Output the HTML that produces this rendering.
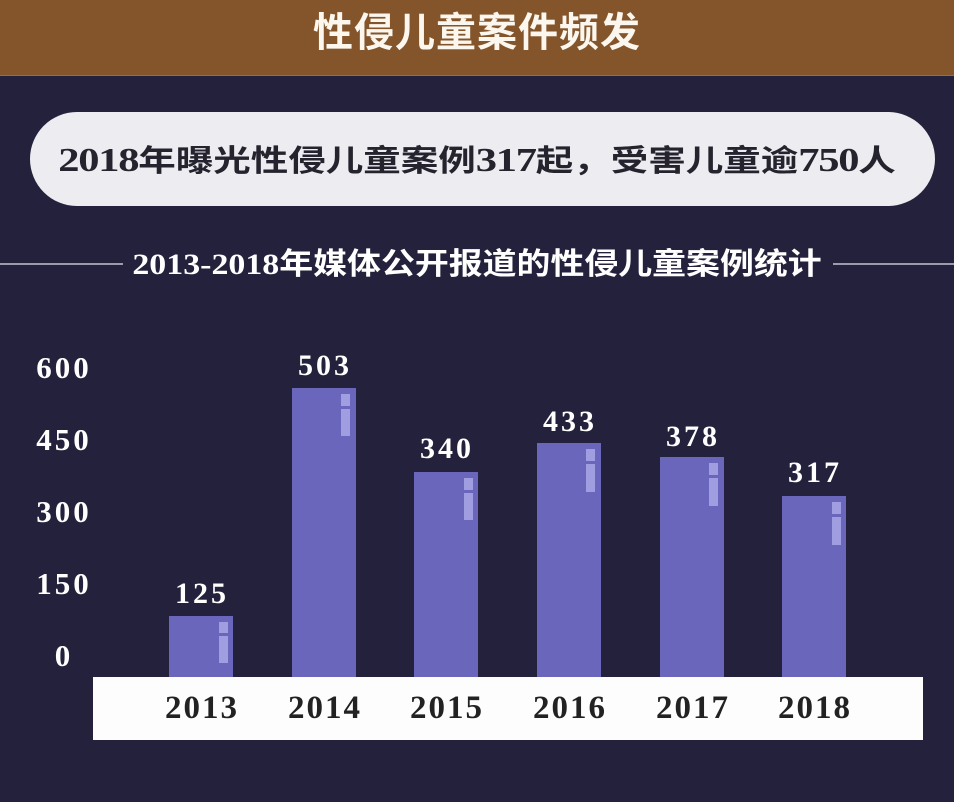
<!DOCTYPE html>
<html><head><meta charset="utf-8">
<style>
*{margin:0;padding:0;box-sizing:border-box}
html,body{width:954px;height:802px;overflow:hidden;background:#23213b}
body{position:relative;font-family:"Liberation Serif","Noto Sans CJK SC",serif}
.abs{position:absolute}
.head{left:0;top:0;width:954px;height:76px;background:#84552b;border-bottom:1px solid #9a6d45}
.title{left:0;top:11px;width:954px;text-align:center;font-family:"Liberation Sans","Noto Sans CJK SC",sans-serif;font-weight:bold;font-size:40px;line-height:44px;color:#fbf6ee;letter-spacing:1px}
.pill{left:30px;top:112px;width:905px;height:94px;border-radius:47px;background:#ececf1}
.pilltext{left:0;top:145px;width:954px;text-align:center;font-weight:bold;font-size:30px;line-height:32px;color:#24232e;white-space:nowrap}
.pilltext > span{display:inline-block;transform:scaleX(1.25);transform-origin:center}
.pilltext b{font-size:34px;letter-spacing:-1px;line-height:32px;font-weight:bold}
.sub{left:0;top:249px;width:954px;text-align:center;font-weight:bold;font-size:30px;line-height:32px;color:#fff;white-space:nowrap}
.sub span{display:inline-block;transform:scaleX(1.13);transform-origin:center}
.line{height:2px;background:#9c9bab;top:263px}
.yl{width:80px;left:24px;text-align:center;font-weight:bold;font-size:31px;line-height:31px;color:#fff;letter-spacing:3px}
.bar{width:64px;background:#6a66bb}
.mk{width:9px;background:#a09de0}
.val{width:100px;text-align:center;font-weight:bold;font-size:30px;line-height:30px;color:#fff;letter-spacing:3px}
.box{left:93px;top:677px;width:830px;height:63px;background:#fdfdfd}
.yr{width:120px;text-align:center;font-weight:bold;font-size:33px;line-height:33px;color:#222;letter-spacing:2px;top:692px}
</style></head><body>
<div class="abs head"></div>
<div class="abs title">性侵儿童案件频发</div>

<div class="abs pill"></div>
<div class="abs pilltext"><span><b>2018</b>年曝光性侵儿童案例<b>317</b>起，受害儿童逾<b>750</b>人</span></div>

<div class="abs line" style="left:0;width:123px"></div>
<div class="abs line" style="left:833px;width:121px"></div>
<div class="abs sub"><span>2013-2018年媒体公开报道的性侵儿童案例统计</span></div>

<div class="abs yl" style="top:352px">600</div>
<div class="abs yl" style="top:424px">450</div>
<div class="abs yl" style="top:496px">300</div>
<div class="abs yl" style="top:568px">150</div>
<div class="abs yl" style="top:640px">0</div>

<!-- bars -->
<div class="abs bar" style="left:169px;top:616px;height:61px"></div>
<div class="abs bar" style="left:292px;top:388px;height:289px"></div>
<div class="abs bar" style="left:414px;top:472px;height:205px"></div>
<div class="abs bar" style="left:537px;top:443px;height:234px"></div>
<div class="abs bar" style="left:660px;top:457px;height:220px"></div>
<div class="abs bar" style="left:782px;top:496px;height:181px"></div>

<!-- markers -->
<div class="abs mk" style="left:219px;top:622px;height:11px"></div>
<div class="abs mk" style="left:219px;top:636px;height:27px"></div>
<div class="abs mk" style="left:341px;top:394px;height:12px"></div>
<div class="abs mk" style="left:341px;top:409px;height:27px"></div>
<div class="abs mk" style="left:464px;top:478px;height:12px"></div>
<div class="abs mk" style="left:464px;top:493px;height:27px"></div>
<div class="abs mk" style="left:586px;top:449px;height:12px"></div>
<div class="abs mk" style="left:586px;top:464px;height:28px"></div>
<div class="abs mk" style="left:709px;top:463px;height:12px"></div>
<div class="abs mk" style="left:709px;top:478px;height:28px"></div>
<div class="abs mk" style="left:832px;top:502px;height:12px"></div>
<div class="abs mk" style="left:832px;top:517px;height:28px"></div>

<!-- value labels -->
<div class="abs val" style="left:152px;top:579px">125</div>
<div class="abs val" style="left:275px;top:351px">503</div>
<div class="abs val" style="left:397px;top:434px">340</div>
<div class="abs val" style="left:520px;top:407px">433</div>
<div class="abs val" style="left:643px;top:422px">378</div>
<div class="abs val" style="left:765px;top:458px">317</div>

<div class="abs box"></div>
<div class="abs yr" style="left:142px">2013</div>
<div class="abs yr" style="left:265px">2014</div>
<div class="abs yr" style="left:387px">2015</div>
<div class="abs yr" style="left:510px">2016</div>
<div class="abs yr" style="left:633px">2017</div>
<div class="abs yr" style="left:755px">2018</div>
</body></html>
